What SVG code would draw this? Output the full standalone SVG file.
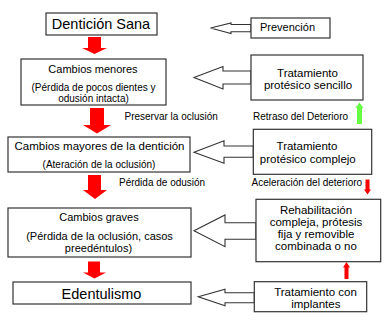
<svg xmlns="http://www.w3.org/2000/svg" width="390" height="325" viewBox="0 0 390 325">
<style>
.box{fill:#fff;stroke:#333;stroke-width:1.2}
.blk{fill:#fff;stroke:#333;stroke-width:1.1;stroke-linejoin:miter}
.red{fill:#ff0000}
.grn{fill:#66ff44}
text{font-family:"Liberation Sans",Arial,sans-serif;fill:#000}
.t11{font-size:11px}
.t10{font-size:10px}
.t115{font-size:11.5px}
.big{font-size:14.5px}
.c{text-anchor:middle}
</style>
<rect width="390" height="325" fill="#fff"/>
<g id="connectors">
  <polygon class="red" points="88,37 101,37 101,48 107,48 94.5,54 82,48 88,48"/>
  <polygon class="red" points="90,108 104,108 104,125 111,125 97,133.5 83,125 90,125"/>
  <polygon class="red" points="88,175 101,175 101,190 107,190 95,199 83,190 88,190"/>
  <polygon class="red" points="88,261.5 100,261.5 100,272.5 106,272.5 94.5,278.5 83,272.5 88,272.5"/>
  <polygon class="blk" points="251,24.5 231,24.5 231,23 210.5,28 231,33.5 231,31.8 251,31.8"/>
  <polygon class="blk" points="251,71 223,71 223,66.5 194,77.5 223,89 223,84 251,84"/>
  <polygon class="blk" points="253.3,146 224,146 224,140.7 194,152.3 224,163.3 224,157.3 253.3,157.3"/>
  <polygon class="blk" points="256,222.7 225,222.7 225,215 194,230.7 225,246.7 225,239.3 256,239.3"/>
  <polygon class="blk" points="254.3,292.7 225,292.7 225,289.3 198.3,296.7 225,305.7 225,302.7 254.3,302.7"/>
  <polygon class="grn" points="357,124 362,124 362,108 363.5,108 359.5,102.5 355.5,108 357,108"/>
  <polygon class="red" points="365.5,179.5 369.5,179.5 369.5,189.5 371,189.5 367.5,194.5 364,189.5 365.5,189.5"/>
  <polygon class="red" points="344.5,279 348.5,279 348.5,267.5 350,267.5 346.5,262 343,267.5 344.5,267.5"/>
  <text class="t10" x="124.5" y="120">Preservar la oclusión</text>
  <text class="t10" x="119" y="186">Pérdida de odusión</text>
  <text class="t10" x="253" y="120">Retraso del Deterioro</text>
  <text class="t10" x="251.5" y="186">Aceleración del deterioro</text>
</g>
<g id="dentici-n-sana">
  <rect class="box" x="46" y="13" width="111" height="22"/>
  <text class="big c" x="101" y="29">Dentición Sana</text>
</g>
<g id="cambios-menores">
  <rect class="box" x="21" y="59" width="145" height="46"/>
  <text class="t11 c" x="93" y="73">Cambios menores</text>
  <text class="t10 c" x="93.5" y="91">(Pérdida de pocos dientes y</text>
  <text class="t10 c" x="93.5" y="102">odusión intacta)</text>
</g>
<g id="cambios-mayores">
  <rect class="box" x="8" y="137" width="182" height="35"/>
  <text class="t115 c" x="99.5" y="150">Cambios mayores de la dentición</text>
  <text class="t10 c" x="99" y="167.5">(Ateración de la oclusión)</text>
</g>
<g id="cambios-graves">
  <rect class="box" x="8" y="208" width="183" height="49"/>
  <text class="t11 c" x="99" y="221">Cambios graves</text>
  <text class="t11 c" x="99.5" y="240">(Pérdida de la oclusión, casos</text>
  <text class="t11 c" x="98.5" y="251.5">preedéntulos)</text>
</g>
<g id="edentulismo">
  <rect class="box" x="13" y="282" width="178" height="22"/>
  <text class="big c" x="101.5" y="298.5">Edentulismo</text>
</g>
<g id="prevencion">
  <rect class="box" x="251" y="18" width="79" height="20"/>
  <text class="t11" x="260" y="30.5">Prevención</text>
</g>
<g id="tratamiento-sencillo">
  <rect class="box" x="251" y="55" width="112" height="45"/>
  <text class="t115 c" x="307.5" y="76.5">Tratamiento</text>
  <text class="t115 c" x="308" y="89">protésico sencillo</text>
</g>
<g id="tratamiento-complejo">
  <rect class="box" x="253.3" y="129.3" width="118.4" height="45"/>
  <text class="t115 c" x="307" y="150">Tratamiento</text>
  <text class="t115 c" x="307.8" y="162.5">protésico complejo</text>
</g>
<g id="rehabilitacion">
  <rect class="box" x="256" y="199.3" width="124.7" height="62.4"/>
  <text class="t115 c" x="316" y="213.5">Rehabilitación</text>
  <text class="t115 c" x="316" y="226">compleja, prótesis</text>
  <text class="t115 c" x="316" y="237.5">fija y removible</text>
  <text class="t115 c" x="316" y="250">combinada o no</text>
</g>
<g id="implantes">
  <rect class="box" x="254.3" y="281.7" width="112.4" height="30"/>
  <text class="t115 c" x="315.5" y="295.5">Tratamiento con</text>
  <text class="t115 c" x="315.8" y="308">implantes</text>
</g>
</svg>
